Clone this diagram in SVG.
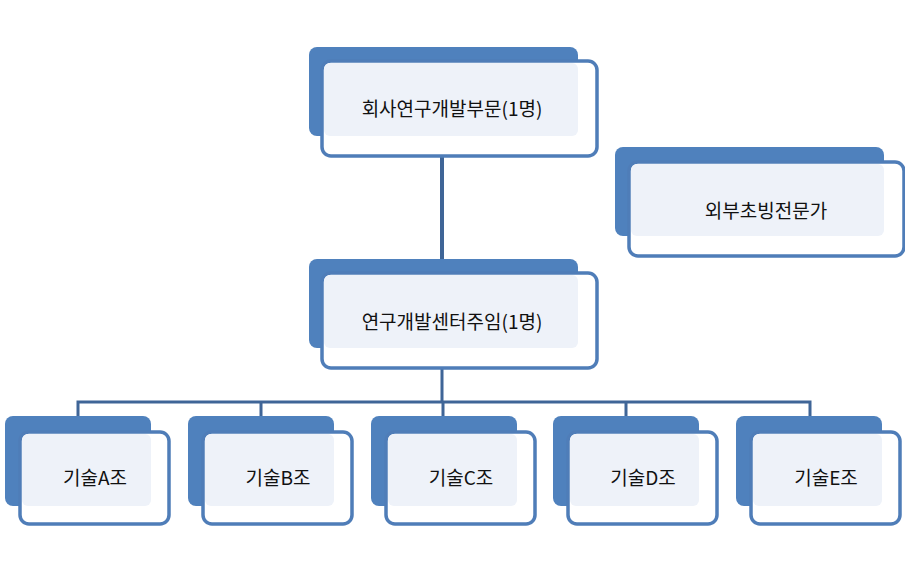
<svg xmlns="http://www.w3.org/2000/svg" width="905" height="578" viewBox="0 0 905 578">
<style>
.b{fill:#4F81BD}
.f{fill:#fff;stroke:#4F7DB8;stroke-width:3.5}
.l{fill:#EEF2F9}
.t{font-family:"Noto Sans CJK KR","Liberation Sans",sans-serif;font-size:19px;fill:#111;text-anchor:middle}
.c{stroke:#3F6597;fill:none}
</style>
<rect width="905" height="578" fill="#fff"/>
<g id="connectors">
<line class="c" x1="442" y1="140" x2="442" y2="262" stroke-width="4"/>
<path class="c" stroke-width="3" d="M442 368V402M78 416V402H810V416M261 402V416M443 402V416M626 402V416"/>
</g>
<g id="n1"><rect class="b" x="309" y="47" width="269" height="89" rx="8"/><rect class="f" x="322" y="61" width="275" height="95" rx="9"/><rect class="l" x="324" y="63" width="254" height="73" rx="6"/><text class="t" x="452" y="116">회사연구개발부문(1명)</text></g>
<g id="n2"><rect class="b" x="309" y="259" width="269" height="89" rx="8"/><rect class="f" x="322" y="273" width="275" height="95" rx="9"/><rect class="l" x="324" y="275" width="254" height="73" rx="6"/><text class="t" x="452" y="329">연구개발센터주임(1명)</text></g>
<g id="ext"><rect class="b" x="615" y="147" width="269" height="89" rx="8"/><rect class="f" x="629" y="162" width="275" height="94" rx="9"/><rect class="l" x="631" y="164" width="253" height="72" rx="6"/><text class="t" x="766" y="218">외부초빙전문가</text></g>
<g id="a"><rect class="b" x="5" y="416" width="146" height="90" rx="8"/><rect class="f" x="20" y="432" width="149" height="92" rx="9"/><rect class="l" x="22" y="434" width="129" height="72" rx="6"/><text class="t" x="95" y="485">기술A조</text></g>
<g id="b"><rect class="b" x="188" y="416" width="146" height="90" rx="8"/><rect class="f" x="203" y="432" width="149" height="92" rx="9"/><rect class="l" x="205" y="434" width="129" height="72" rx="6"/><text class="t" x="278" y="485">기술B조</text></g>
<g id="c"><rect class="b" x="371" y="416" width="146" height="90" rx="8"/><rect class="f" x="386" y="432" width="149" height="92" rx="9"/><rect class="l" x="388" y="434" width="129" height="72" rx="6"/><text class="t" x="461" y="485">기술C조</text></g>
<g id="d"><rect class="b" x="553" y="416" width="146" height="90" rx="8"/><rect class="f" x="568" y="432" width="149" height="92" rx="9"/><rect class="l" x="570" y="434" width="129" height="72" rx="6"/><text class="t" x="643" y="485">기술D조</text></g>
<g id="e"><rect class="b" x="736" y="416" width="146" height="90" rx="8"/><rect class="f" x="751" y="432" width="149" height="92" rx="9"/><rect class="l" x="753" y="434" width="129" height="72" rx="6"/><text class="t" x="826" y="485">기술E조</text></g>
</svg>
